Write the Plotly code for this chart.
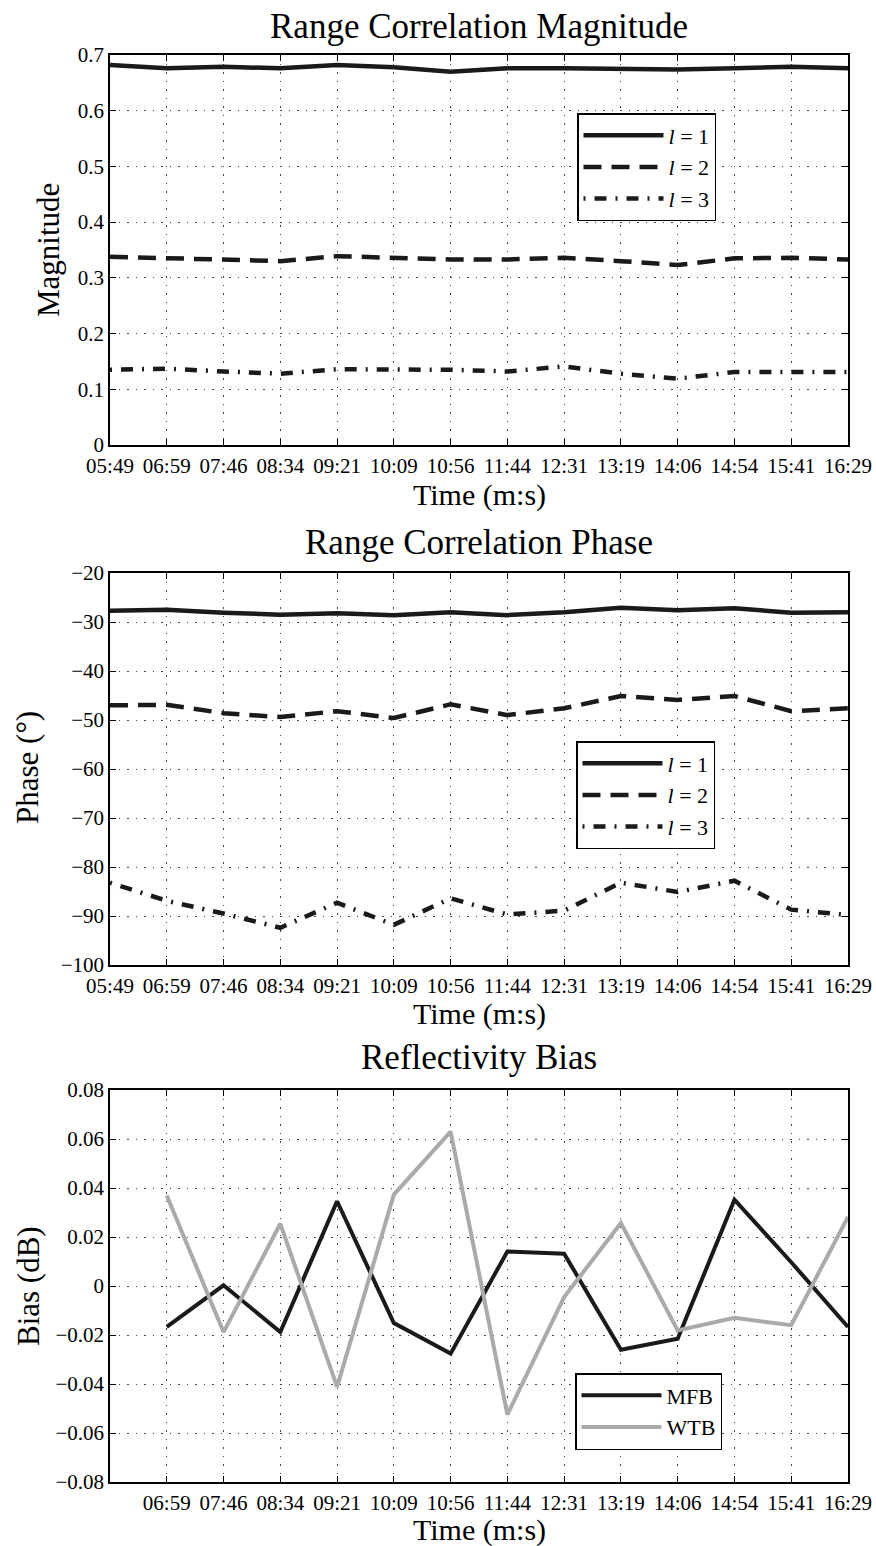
import plotly.graph_objects as go

# ---------------- data ----------------
time_labels = ["05:49", "06:59", "07:46", "08:34", "09:21", "10:09", "10:56",
               "11:44", "12:31", "13:19", "14:06", "14:54", "15:41", "16:29"]

mag_l1 = [0.682, 0.676, 0.679, 0.676, 0.682, 0.678, 0.670, 0.676, 0.676, 0.674, 0.674, 0.676, 0.679, 0.676]
mag_l2 = [0.338, 0.335, 0.334, 0.330, 0.339, 0.336, 0.333, 0.333, 0.336, 0.330, 0.323, 0.335, 0.336, 0.333]
mag_l3 = [0.135, 0.137, 0.132, 0.128, 0.136, 0.136, 0.135, 0.132, 0.141, 0.128, 0.119, 0.131, 0.132, 0.131]

ph_l1 = [-27.7, -27.5, -28.1, -28.5, -28.2, -28.6, -28.0, -28.6, -28.0, -27.1, -27.6, -27.2, -28.1, -28.0]
ph_l2 = [-47.0, -46.9, -48.6, -49.4, -48.2, -49.6, -46.8, -49.0, -47.6, -45.1, -45.9, -45.1, -48.2, -47.6]
ph_l3 = [-83.2, -86.9, -89.5, -92.4, -87.3, -91.8, -86.4, -89.7, -88.9, -83.2, -85.1, -82.8, -88.7, -89.8]

bias_labels = time_labels[1:]
bias_mfb = [-0.0167, 0.0003, -0.0188, 0.0346, -0.0151, -0.0276, 0.0141, 0.0132, -0.0260, -0.0215, 0.0352, 0.0097, -0.0167]
bias_wtb = [0.0369, -0.0188, 0.0254, -0.0412, 0.0373, 0.0630, -0.0525, -0.0045, 0.0257, -0.0181, -0.0130, -0.0160, 0.0282]

# ---------------- figure ----------------
W, H = 876, 1546
FONT = "Liberation Serif, Times New Roman, serif"
BLACK = "#1a1a1a"
GREY = "#aaaaaa"

def px(v):
    return v / W

def py(v):
    return (H - v) / H

fig = go.Figure()

x_full = list(range(len(time_labels)))
x_bias = list(range(1, len(time_labels)))

solid = dict(color=BLACK, width=4.5, dash="solid")
dashed = dict(color=BLACK, width=4.5, dash="18px,10px")
dashdot = dict(color=BLACK, width=4.5, dash="2px,9px,12px,9px")

for i, (name, ys, ln) in enumerate([("<i>l</i> = 1", mag_l1, solid), ("<i>l</i> = 2", mag_l2, dashed), ("<i>l</i> = 3", mag_l3, dashdot)]):
    fig.add_trace(go.Scatter(x=x_full, y=ys, mode="lines", line=ln, name=name,
                             legendgroup=f"m{i}", xaxis="x", yaxis="y", legend="legend"))
for i, (name, ys, ln) in enumerate([("<i>l</i> = 1", ph_l1, solid), ("<i>l</i> = 2", ph_l2, dashed), ("<i>l</i> = 3", ph_l3, dashdot)]):
    fig.add_trace(go.Scatter(x=x_full, y=ys, mode="lines", line=ln, name=name,
                             legendgroup=f"p{i}", xaxis="x2", yaxis="y2", legend="legend2"))
fig.add_trace(go.Scatter(x=x_bias, y=bias_mfb, mode="lines", line=dict(color=BLACK, width=4),
                         name="MFB", legendgroup="b0", xaxis="x3", yaxis="y3", legend="legend3"))
fig.add_trace(go.Scatter(x=x_bias, y=bias_wtb, mode="lines", line=dict(color=GREY, width=4),
                         name="WTB", legendgroup="b1", xaxis="x3", yaxis="y3", legend="legend3"))

xdom = [px(110), px(848)]
ydoms = [[py(445), py(55)], [py(965), py(573)], [py(1482), py(1090)]]

common_axis = dict(
    showline=True, linecolor="black", linewidth=1.5, mirror="ticks",
    ticks="inside", ticklen=6, tickwidth=1, tickcolor="black",
    showgrid=True, gridcolor="#444444", gridwidth=1, griddash="1.5px,7px",
    zeroline=False, automargin=False,
    tickfont=dict(family=FONT, size=21, color="black"),
)

fig.update_layout(
    width=W, height=H, margin=dict(l=0, r=0, t=0, b=0, autoexpand=False),
    paper_bgcolor="white", plot_bgcolor="white",
    font=dict(family=FONT, color="black"),
    xaxis=dict(domain=xdom, anchor="y", range=[0, 13], tickmode="array",
               tickvals=x_full, ticktext=time_labels, ticklabelstandoff=1, **common_axis),
    yaxis=dict(domain=ydoms[0], anchor="x", range=[0, 0.7], dtick=0.1, tick0=0, **common_axis),
    xaxis2=dict(domain=xdom, anchor="y2", range=[0, 13], tickmode="array",
                tickvals=x_full, ticktext=time_labels, ticklabelstandoff=1, **common_axis),
    yaxis2=dict(domain=ydoms[1], anchor="x2", range=[-100, -20], dtick=10, tick0=0, **common_axis),
    xaxis3=dict(domain=xdom, anchor="y3", range=[0, 13], tickmode="array",
                tickvals=x_bias, ticktext=bias_labels, ticklabelstandoff=1, **common_axis),
    yaxis3=dict(domain=ydoms[2], anchor="x3", range=[-0.08, 0.08], dtick=0.02, tick0=0, **common_axis),
)

leg_common = dict(bgcolor="white", bordercolor="black", borderwidth=1.5,
                  font=dict(family=FONT, size=22, color="black"),
                  xanchor="left", yanchor="top", itemwidth=80, tracegroupgap=0)
fig.update_layout(
    legend=dict(x=px(577), y=py(113), **leg_common),
    legend2=dict(x=px(576), y=py(741), **leg_common),
    legend3=dict(x=px(575), y=py(1373), **leg_common),
)

annots = []
for text, yc in [("Range Correlation Magnitude", 26), ("Range Correlation Phase", 542), ("Reflectivity Bias", 1057)]:
    annots.append(dict(text=text, x=px(479), y=py(yc), xref="paper", yref="paper",
                       xanchor="center", yanchor="middle", showarrow=False,
                       font=dict(family=FONT, size=35, color="black")))
for yc in [495, 1014, 1530]:
    annots.append(dict(text="Time (m:s)", x=px(479), y=py(yc), xref="paper", yref="paper",
                       xanchor="center", yanchor="middle", showarrow=False,
                       font=dict(family=FONT, size=30, color="black")))
for text, xc, yc in [("Magnitude", 48, 250), ("Phase (°)", 28, 768), ("Bias (dB)", 28, 1286)]:
    annots.append(dict(text=text, x=px(xc), y=py(yc), xref="paper", yref="paper",
                       xanchor="center", yanchor="middle", showarrow=False, textangle=-90,
                       font=dict(family=FONT, size=31, color="black")))
fig.update_layout(annotations=annots)

fig.write_html("out.html", config={"displayModeBar": False},
               post_script="document.body.style.margin='0';")
